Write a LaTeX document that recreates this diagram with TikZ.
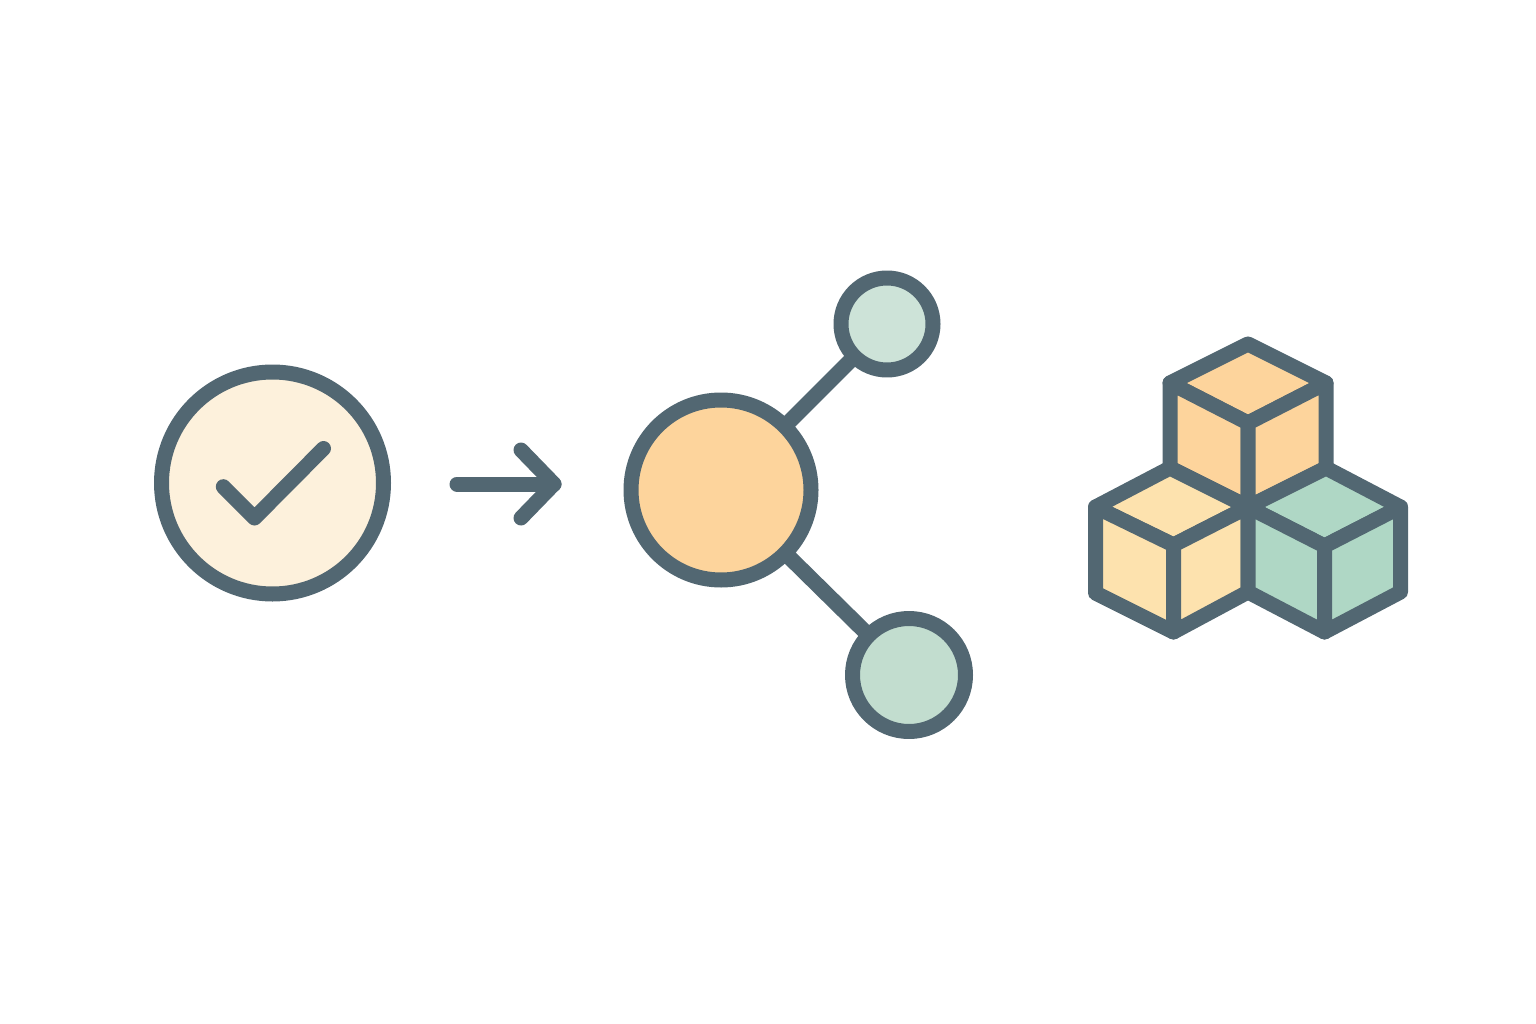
\documentclass[tikz,border=0pt]{standalone}
\usepackage{tikz}
\usetikzlibrary{backgrounds,positioning}
\definecolor{slateline}{HTML}{526772}
\definecolor{creamfill}{HTML}{FDF1DC}
\definecolor{peachfill}{HTML}{FDD49C}
\definecolor{sandfill}{HTML}{FDE2AE}
\definecolor{mintfill}{HTML}{AFD7C5}
\definecolor{palefill}{HTML}{CDE3D8}
\definecolor{sagefill}{HTML}{C2DDCF}
\tikzset{
    outline/.style={draw=slateline,line width=15pt,line join=round,line cap=round},
    disc/.style={circle,outline,inner sep=0pt},
    link/.style={draw=slateline,line width=15.5pt,shorten >=-6pt,shorten <=-6pt}
}

\begin{document}
\begin{tikzpicture}[x=1pt,y=-1pt]
    \useasboundingbox (0,0) rectangle (1536,1024);

    % check mark in a circle
    \node[disc,fill=creamfill,minimum size=222pt] (done) at (272.5,483) {};
    \coordinate (tickstart) at (223.3,486.7);
    \coordinate (tickmid) at (254.5,518);
    \coordinate (tickend) at (323.5,448.5);
    \draw[outline] (tickstart) -- (tickmid) -- (tickend);

    % arrow
    \coordinate (tail) at (457,484);
    \coordinate (tip) at (554,484);
    \coordinate (barbup) at (521,450);
    \coordinate (barbdown) at (521,518);
    \draw[outline] (tail) -- (tip);
    \draw[outline] (barbup) -- (tip) -- (barbdown);

    % hub and its two leaves
    \node[disc,fill=peachfill,minimum size=180pt] (hub) at (721,490) {};
    \node[disc,fill=palefill,minimum size=92pt] (leaftop) at (887,324) {};
    \node[disc,fill=sagefill,minimum size=113pt] (leafbottom) at (909,675) {};
    \begin{scope}[on background layer]
        \path[link]
            (hub) edge (leaftop)
            (hub) edge (leafbottom)
        ;
    \end{scope}

    % top cube
    \coordinate (a1) at (1248,344);
    \coordinate (a2) at (1326,383);
    \coordinate (a3) at (1248,423);
    \coordinate (a4) at (1170,383);
    \coordinate (a5) at (1170,468);
    \coordinate (a6) at (1248,507);
    \coordinate (a7) at (1326,468);
    \draw[outline,fill=peachfill] (a1) -- (a2) -- (a3) -- (a4) -- cycle;
    \draw[outline,fill=peachfill] (a4) -- (a3) -- (a6) -- (a5) -- cycle;
    \draw[outline,fill=peachfill] (a3) -- (a2) -- (a7) -- (a6) -- cycle;

    % left cube
    \coordinate (b2) at (1095.5,507);
    \coordinate (b3) at (1173.5,545);
    \coordinate (b4) at (1095.5,593);
    \coordinate (b5) at (1173.5,632);
    \coordinate (b6) at (1248,592);
    \draw[outline,fill=sandfill] (a5) -- (a6) -- (b3) -- (b2) -- cycle;
    \draw[outline,fill=sandfill] (b2) -- (b3) -- (b5) -- (b4) -- cycle;
    \draw[outline,fill=sandfill] (b3) -- (a6) -- (b6) -- (b5) -- cycle;

    % right cube
    \coordinate (c2) at (1400.5,507);
    \coordinate (c3) at (1324.5,546);
    \coordinate (c4) at (1400.5,592);
    \coordinate (c5) at (1324.5,632);
    \draw[outline,fill=mintfill] (a7) -- (c2) -- (c3) -- (a6) -- cycle;
    \draw[outline,fill=mintfill] (a6) -- (c3) -- (c5) -- (b6) -- cycle;
    \draw[outline,fill=mintfill] (c3) -- (c2) -- (c4) -- (c5) -- cycle;
\end{tikzpicture}
\end{document}
